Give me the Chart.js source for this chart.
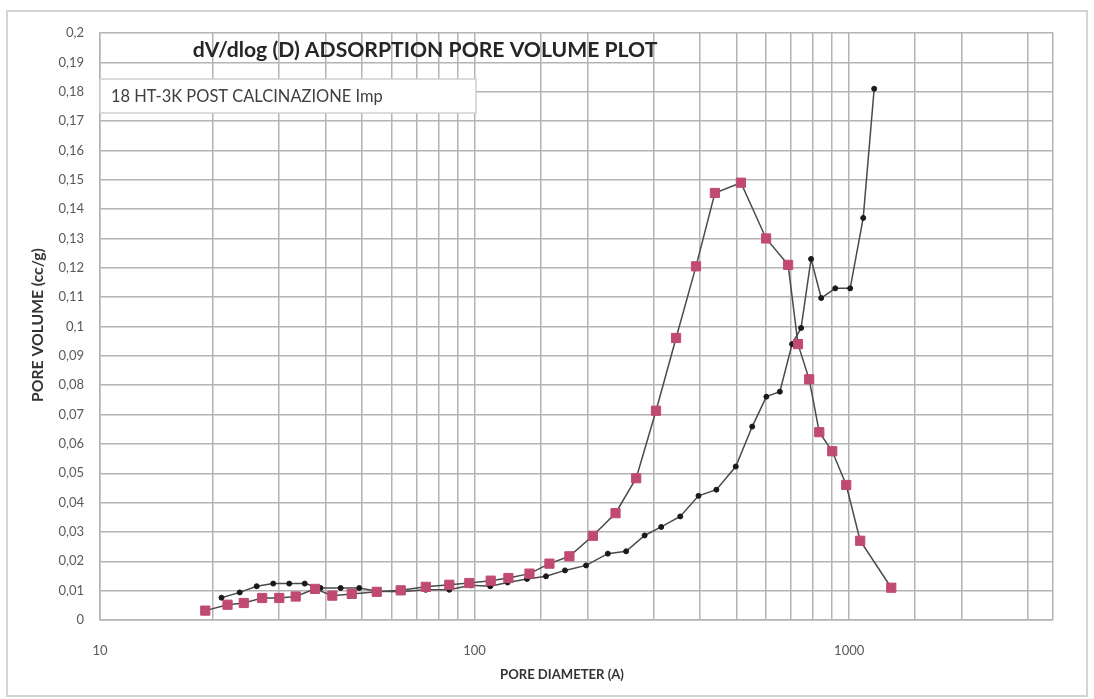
<!DOCTYPE html>
<html>
<head>
<meta charset="utf-8">
<script src="https://cdn.jsdelivr.net/npm/chart.js@4.4.1/dist/chart.umd.min.js"></script>
<style>
  html, body { margin: 0; padding: 0; background: #fff; }
  canvas { display: block; }
</style>
</head>
<body>
<canvas id="poreChart" width="1094" height="699"></canvas>
<script>
// Red series (square markers)
const redDiameter = [19.1, 21.9, 24.2, 27.1, 30.1, 33.3, 37.5, 41.7, 47.0, 54.8, 63.5, 74.1, 85.6, 96.8,
    110.4, 123.1, 140.1, 158.4, 179.1, 206.9, 237.8, 270, 305, 345, 390, 438, 514, 600, 687, 730, 782,
    832, 901, 982, 1070, 1295];
const redVolume = [0.0032, 0.0052, 0.0058, 0.0075, 0.0075, 0.008, 0.0106, 0.0083, 0.0089, 0.0096, 0.0101,
    0.0113, 0.012, 0.0126, 0.0134, 0.0143, 0.0158, 0.0192, 0.0217, 0.0287, 0.0364, 0.0483, 0.0713, 0.0961,
    0.1205, 0.1455, 0.149, 0.130, 0.121, 0.094, 0.082, 0.064, 0.0575, 0.046, 0.027, 0.011];

// Black series (small dot markers)
const blackDiameter = [21.1, 23.6, 26.2, 29.0, 32.0, 35.2, 38.8, 43.9, 49.2, 55.0, 63.5, 74.1, 85.6, 97.6,
    110.1, 122.5, 138, 155.1, 174.3, 198.4, 226.8, 253.8, 284.3, 314.9, 354, 396, 442, 498, 551, 601, 653,
    704, 744, 791, 842, 918, 1006, 1090, 1166];
const blackVolume = [0.0076, 0.0094, 0.0115, 0.0124, 0.0124, 0.0124, 0.0109, 0.0109, 0.0109, 0.0098, 0.0096,
    0.0103, 0.0103, 0.0118, 0.0115, 0.0128, 0.014, 0.0149, 0.0169, 0.0186, 0.0226, 0.0234, 0.0288, 0.0317,
    0.0353, 0.0423, 0.0444, 0.0523, 0.0659, 0.0761, 0.0778, 0.094, 0.0995, 0.123, 0.1097, 0.113, 0.113,
    0.137, 0.181];

const majorTicks = [10, 100, 1000];
const chartTitle = "dV/dlog (D) ADSORPTION PORE VOLUME PLOT";
const legendText = "18 HT-3K POST CALCINAZIONE Imp";
const xTitle = "PORE DIAMETER (A)";
const yTitle = "PORE VOLUME (cc/g)";

const FONT = "Lato, 'Liberation Sans', sans-serif";
const gridColor = "#b4b4b4";

function toPoints(xs, ys) {
    return xs.map((x, i) => ({ x: x, y: ys[i] }));
}

// fit text into a given width by adjusting the font size
function fitFont(ctx, text, weight, width) {
    ctx.font = weight + " 20px " + FONT;
    const w = ctx.measureText(text).width;
    return 20 * width / w;
}

const decorPlugin = {
    id: "decor",
    beforeDraw(chart) {
        const ctx = chart.ctx;
        ctx.save();
        ctx.fillStyle = "#fff";
        ctx.fillRect(0, 0, chart.width, chart.height);
        ctx.strokeStyle = "#d4d4d4";
        ctx.lineWidth = 2;
        ctx.strokeRect(7, 11, 1080, 685);
        ctx.restore();
    },
    afterDraw(chart) {
        const ctx = chart.ctx;
        ctx.save();

        // title
        let size = fitFont(ctx, chartTitle, "bold", 465);
        ctx.font = "bold " + size + "px " + FONT;
        ctx.fillStyle = "#262626";
        ctx.textAlign = "center";
        ctx.textBaseline = "middle";
        ctx.fillText(chartTitle, 425, 50);

        // legend box
        ctx.fillStyle = "#fff";
        ctx.fillRect(100, 79, 376, 34);
        ctx.strokeStyle = "#d0d0d0";
        ctx.lineWidth = 1.5;
        ctx.strokeRect(100, 79, 376, 34);
        size = fitFont(ctx, legendText, "normal", 272);
        ctx.font = size + "px " + FONT;
        ctx.fillStyle = "#404040";
        ctx.textAlign = "left";
        ctx.fillText(legendText, 111, 97);

        // axis titles
        ctx.fillStyle = "#333";
        size = fitFont(ctx, xTitle, "bold", 124);
        ctx.font = "bold " + size + "px " + FONT;
        ctx.textAlign = "center";
        ctx.fillText(xTitle, 562, 675);

        size = fitFont(ctx, yTitle, "bold", 154);
        ctx.font = "bold " + size + "px " + FONT;
        ctx.translate(38, 325);
        ctx.rotate(-Math.PI / 2);
        ctx.fillText(yTitle, 0, 0);
        ctx.restore();
    }
};

const ctx = document.getElementById("poreChart").getContext("2d");
new Chart(ctx, {
    type: "scatter",
    data: {
        datasets: [
            {
                label: "red",
                data: toPoints(redDiameter, redVolume),
                showLine: true,
                borderColor: "#4a4a4a",
                borderWidth: 1.5,
                pointStyle: "rect",
                pointRadius: 6.5,
                pointBackgroundColor: "#c04a70",
                pointBorderColor: "#c04a70",
                pointBorderWidth: 1
            },
            {
                label: "black",
                data: toPoints(blackDiameter, blackVolume),
                showLine: true,
                borderColor: "#4a4a4a",
                borderWidth: 1.5,
                pointRadius: 2.5,
                pointBackgroundColor: "#1a1a1a",
                pointBorderColor: "#1a1a1a",
                pointBorderWidth: 1
            }
        ]
    },
    options: {
        responsive: false,
        animation: false,
        layout: { padding: { left: 0, right: 41, top: 33, bottom: 0 } },
        plugins: {
            legend: { display: false },
            title: { display: false },
            tooltip: { enabled: false }
        },
        scales: {
            x: {
                type: "logarithmic",
                min: 10,
                max: 3500,
                grid: { color: gridColor, lineWidth: 1.5, drawTicks: false },
                border: { color: gridColor, width: 1.5 },
                ticks: {
                    autoSkip: false,
                    maxRotation: 0,
                    padding: 23,
                    color: "#595959",
                    font: { family: FONT, size: 13 },
                    callback: function (value) {
                        return majorTicks.includes(value) ? String(value) : "";
                    }
                },
                afterFit: function (scale) { scale.height = 79; }
            },
            y: {
                min: 0,
                max: 0.2,
                grid: { color: gridColor, lineWidth: 1.5, drawTicks: false },
                border: { color: gridColor, width: 1.5 },
                ticks: {
                    stepSize: 0.01,
                    autoSkip: false,
                    padding: 16,
                    color: "#595959",
                    font: { family: FONT, size: 13 },
                    callback: function (value) {
                        return parseFloat(value.toFixed(2)).toString().replace(".", ",");
                    }
                },
                afterFit: function (scale) { scale.width = 100; }
            }
        }
    },
    plugins: [decorPlugin]
});
</script>
</body>
</html>
